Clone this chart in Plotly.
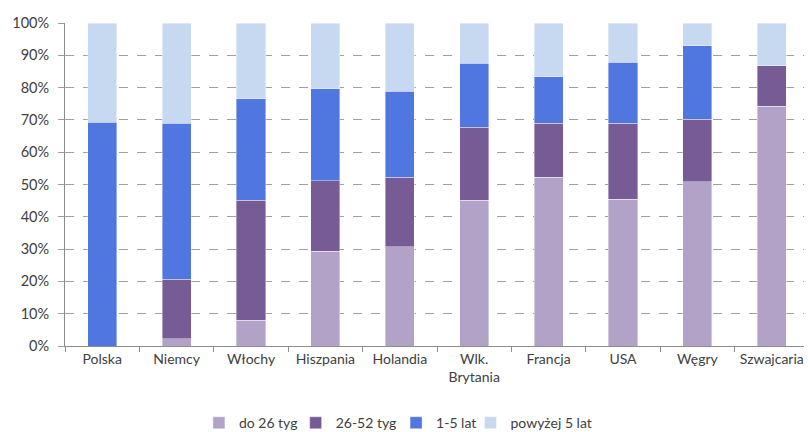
import plotly.graph_objects as go

categories = ["Polska", "Niemcy", "Włochy", "Hiszpania", "Holandia",
              "Wlk.<br>Brytania", "Francja", "USA", "Węgry", "Szwajcaria"]
do_26_tyg = [0.0, 2.2, 8.0, 29.4, 30.7, 45.1, 52.2, 45.4, 50.8, 74.3]
tyg_26_52 = [0.0, 18.4, 37.1, 21.7, 21.5, 22.7, 16.7, 23.5, 19.4, 12.5]
lat_1_5 = [69.3, 48.3, 31.4, 28.6, 26.6, 19.7, 14.4, 18.9, 22.7, 0.0]
powyzej_5_lat = [30.7, 31.1, 23.5, 20.3, 21.2, 12.5, 16.7, 12.2, 7.1, 13.2]
y_ticks = [0, 10, 20, 30, 40, 50, 60, 70, 80, 90, 100]

series = [
    ("do 26 tyg", do_26_tyg, "#b2a2c7", "legend", 0.18),
    ("26-52 tyg", tyg_26_52, "#765b94", "legend2", 0.31),
    ("1-5 lat", lat_1_5, "#5077df", "legend3", 0.445),
    ("powyżej 5 lat", powyzej_5_lat, "#c6d9f1", "legend4", 0.545),
]

font_family = "Lato, 'Open Sans', sans-serif"

fig = go.Figure()
legend_layout = {}
for name, vals, col, leg, lx in series:
    fig.add_trace(go.Bar(
        x=categories, y=vals, name=name, legend=leg,
        marker=dict(color=col, line=dict(color="rgba(255,255,255,0.5)", width=0.8)),
    ))
    legend_layout[leg] = dict(
        x=lx, xanchor="left", y=0.039, yref="container", yanchor="middle",
        font=dict(family=font_family, size=14, color="#404040"),
        itemwidth=30, bgcolor="rgba(0,0,0,0)",
    )

fig.update_layout(
    barmode="stack",
    bargap=0.61,
    width=812, height=432,
    margin=dict(l=57, r=11, t=15, b=94),
    paper_bgcolor="white", plot_bgcolor="white",
    font=dict(family=font_family, size=14, color="#404040"),
    showlegend=True,
    xaxis=dict(
        type="category", automargin=False,
        showline=True, linecolor="#8c8c8c", linewidth=1,
        ticks="outside", tickson="boundaries", ticklen=5, tickcolor="#8c8c8c",
        showgrid=False,
        tickfont=dict(size=14, color="#404040"),
    ),
    yaxis=dict(
        range=[0, 100], automargin=False,
        tickvals=y_ticks,
        ticktext=[f"{v}%" for v in y_ticks],
        showline=True, linecolor="#8c8c8c", linewidth=1,
        ticks="outside", ticklen=6, tickcolor="#a0a0a0",
        ticklabelstandoff=6,
        showgrid=True, gridcolor="#a0a0a0", griddash="dash", gridwidth=1,
        zeroline=False,
        tickfont=dict(size=14.5, color="#404040"),
    ),
    **legend_layout,
)

fig.write_html("out.html")
